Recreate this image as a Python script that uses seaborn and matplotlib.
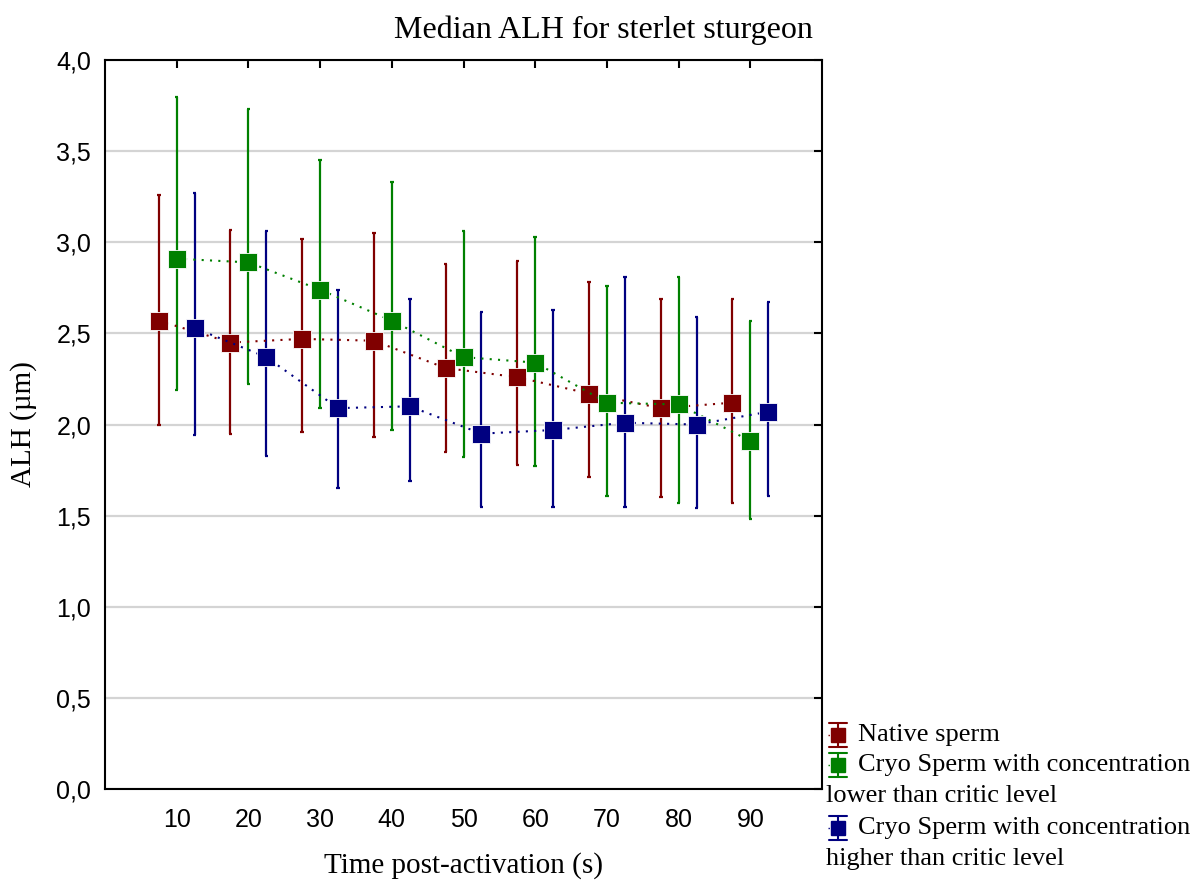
import pandas as pd
import numpy as np
import seaborn as sns
import matplotlib.pyplot as plt
from matplotlib.lines import Line2D
from matplotlib.ticker import FuncFormatter, MultipleLocator

# data (median, lower, upper)
times = [10, 20, 30, 40, 50, 60, 70, 80, 90]
series_names = ['Native sperm',
                'Cryo Sperm with concentration lower than critic level',
                'Cryo Sperm with concentration higher than critic level']

native_med = [2.57, 2.45, 2.47, 2.46, 2.31, 2.26, 2.17, 2.09, 2.12]
native_low = [2.00, 1.95, 1.96, 1.93, 1.85, 1.78, 1.71, 1.60, 1.57]
native_up = [3.26, 3.07, 3.02, 3.05, 2.88, 2.90, 2.78, 2.69, 2.69]

low_med = [2.91, 2.89, 2.74, 2.57, 2.37, 2.34, 2.12, 2.11, 1.91]
low_low = [2.19, 2.22, 2.09, 1.97, 1.82, 1.77, 1.61, 1.57, 1.48]
low_up = [3.80, 3.73, 3.45, 3.33, 3.06, 3.03, 2.76, 2.81, 2.57]

high_med = [2.53, 2.37, 2.09, 2.10, 1.95, 1.97, 2.01, 2.00, 2.07]
high_low = [1.94, 1.83, 1.65, 1.69, 1.55, 1.55, 1.55, 1.54, 1.61]
high_up = [3.27, 3.06, 2.74, 2.69, 2.62, 2.63, 2.81, 2.59, 2.67]

colors = ['#800000', '#008000', '#000080']
offsets = [-2.5, 0, 2.5]

frames = []
for name, off, med, lo, up in zip(series_names, offsets,
                                  [native_med, low_med, high_med],
                                  [native_low, low_low, high_low],
                                  [native_up, low_up, high_up]):
    frames.append(pd.DataFrame({'time': np.array(times) + off, 'ALH': med,
                                'lower': lo, 'upper': up, 'group': name}))
df = pd.concat(frames, ignore_index=True)

sns.set_style("white")
plt.rcParams['font.family'] = ['Liberation Serif', 'DejaVu Serif']
plt.rcParams['text.color'] = 'black'
plt.rcParams['axes.labelcolor'] = 'black'
plt.rcParams['xtick.color'] = 'black'
plt.rcParams['ytick.color'] = 'black'

fig = plt.figure(figsize=(12.01, 8.84), dpi=100)
ax = fig.add_axes([0.0874, 0.1075, 0.5971, 0.8245])

ax.grid(axis='y', color='#d4d4d4', lw=1.6, zorder=0)
ax.set_axisbelow(True)

palette = dict(zip(series_names, colors))
# error bars first, markers on top
for name in series_names:
    d = df[df.group == name]
    ax.vlines(d.time, d.lower, d.upper, color=palette[name], lw=1.6, zorder=2)
    ax.hlines(d.lower, d.time - 0.25, d.time + 0.25, color=palette[name], lw=1.6, zorder=2)
    ax.hlines(d.upper, d.time - 0.25, d.time + 0.25, color=palette[name], lw=1.6, zorder=2)

sns.lineplot(data=df, x='time', y='ALH', hue='group', palette=palette,
             marker='s', markersize=13, markeredgewidth=0.6,
             linestyle=(0, (1, 3)), lw=1.5, legend=False, ax=ax, zorder=3)
for ln in ax.lines:
    ln.set_markeredgecolor('white')

ax.set_xlim(0, 100)
ax.set_ylim(0, 4.0)
ax.set_xticks(times)
ax.yaxis.set_major_locator(MultipleLocator(0.5))
ax.yaxis.set_major_formatter(FuncFormatter(lambda v, p: f'{v:.1f}'.replace('.', ',')))
ax.tick_params(direction='in', length=6, width=1.5, top=True, right=True,
               labeltop=False, labelright=False)
ax.tick_params(axis='x', pad=14)
ax.tick_params(axis='y', pad=10)
for lab in ax.get_xticklabels() + ax.get_yticklabels():
    lab.set_family(['Liberation Sans', 'DejaVu Sans'])
    lab.set_fontsize(18)
for sp in ax.spines.values():
    sp.set_color('black')
    sp.set_linewidth(1.5)

ax.set_xlabel('Time post-activation (s)', fontsize=21, labelpad=14)
ax.set_ylabel('ALH (µm)', fontsize=21, labelpad=14)
ax.set_title('Median ALH for sterlet sturgeon', fontsize=23, x=0.695, pad=16)

# legend drawn by hand so the wrapped lines start under the symbol
leg_rows = [(735, 'Native sperm', None),
            (765, 'Cryo Sperm with concentration', 'lower than critic level'),
            (828, 'Cryo Sperm with concentration', 'higher than critic level')]
W, H = 1201, 884
for (yp, first, second), c in zip(leg_rows, colors):
    fx, fy = 838 / W, 1 - yp / H
    fig.add_artist(Line2D([fx, fx], [fy - 12 / H, fy + 12 / H], color=c, lw=1.5,
                          transform=fig.transFigure))
    for dy in (-12, 12):
        fig.add_artist(Line2D([fx - 9 / W, fx + 9 / W], [fy + dy / H] * 2, color=c,
                              lw=1.5, transform=fig.transFigure))
    fig.add_artist(Line2D([828 / W, 834 / W], [fy, fy], color=c, lw=1,
                          linestyle=(0, (1, 2)), transform=fig.transFigure))
    fig.add_artist(Line2D([fx], [fy], marker='s', markersize=10, color=c,
                          transform=fig.transFigure))
    fig.text(858 / W, fy, first, fontsize=19, va='center', ha='left')
    if second:
        fig.text(826 / W, fy - 31 / H, second, fontsize=19, va='center', ha='left')

plt.savefig('out.png', dpi=100)
